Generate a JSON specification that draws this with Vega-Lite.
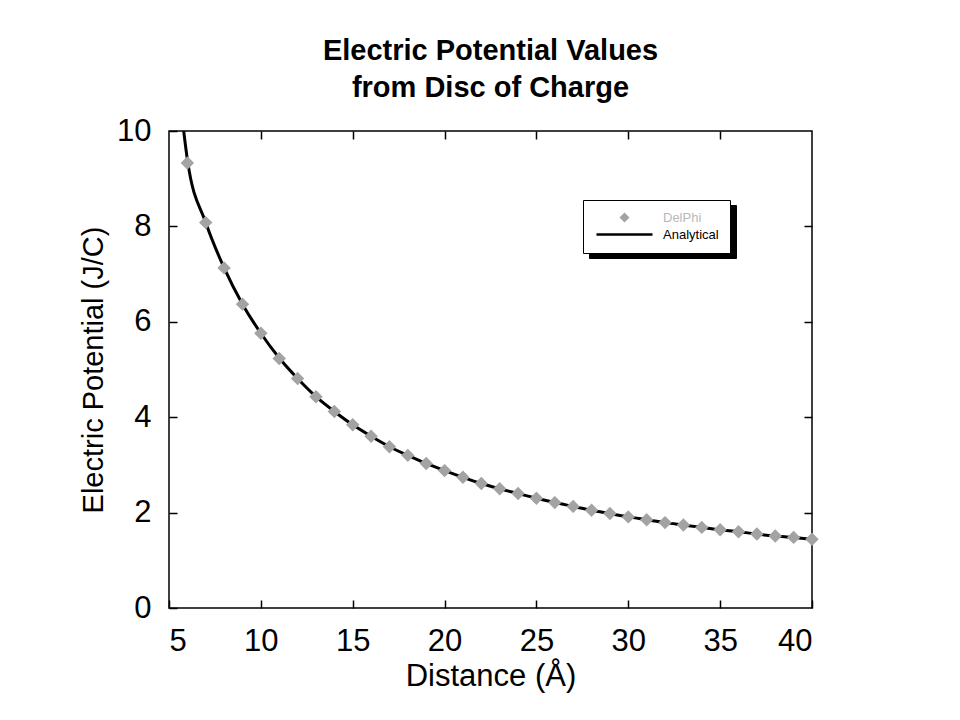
{
  "$schema": "https://vega.github.io/schema/vega-lite/v6.json",
  "autosize": {"type": "none"},
  "width": 643,
  "height": 477,
  "padding": {"left": 169, "top": 131, "right": 148, "bottom": 112},
  "background": "white",
  "config": {
    "font": "Liberation Sans",
    "view": {"stroke": "black", "strokeWidth": 1.5},
    "axis": {"grid": false, "domain": false, "tickColor": "black", "tickWidth": 1.5, "labelColor": "black", "titleColor": "black", "titleFontWeight": "normal"},
    "legend": {
      "title": null, "orient": "none", "direction": "vertical", "columns": 1,
      "padding": 11, "labelFontSize": 13, "labelFont": "Liberation Sans", "rowPadding": 3,
      "labelOffset": 32, "symbolOffset": 24, "symbolSize": 100
    }
  },
  "title": {
    "text": ["Electric Potential Values", "from Disc of Charge"],
    "fontSize": 29,
    "fontWeight": "bold",
    "lineHeight": 37,
    "offset": 12,
    "color": "black",
    "font": "Liberation Sans"
  },
  "datasets": {
    "delphi": [
      {"d": 6, "v": 9.33, "series": "DelPhi"},
      {"d": 7, "v": 8.08, "series": "DelPhi"},
      {"d": 8, "v": 7.13, "series": "DelPhi"},
      {"d": 9, "v": 6.37, "series": "DelPhi"},
      {"d": 10, "v": 5.76, "series": "DelPhi"},
      {"d": 11, "v": 5.23, "series": "DelPhi"},
      {"d": 12, "v": 4.81, "series": "DelPhi"},
      {"d": 13, "v": 4.43, "series": "DelPhi"},
      {"d": 14, "v": 4.12, "series": "DelPhi"},
      {"d": 15, "v": 3.84, "series": "DelPhi"},
      {"d": 16, "v": 3.60, "series": "DelPhi"},
      {"d": 17, "v": 3.38, "series": "DelPhi"},
      {"d": 18, "v": 3.20, "series": "DelPhi"},
      {"d": 19, "v": 3.03, "series": "DelPhi"},
      {"d": 20, "v": 2.88, "series": "DelPhi"},
      {"d": 21, "v": 2.74, "series": "DelPhi"},
      {"d": 22, "v": 2.61, "series": "DelPhi"},
      {"d": 23, "v": 2.50, "series": "DelPhi"},
      {"d": 24, "v": 2.40, "series": "DelPhi"},
      {"d": 25, "v": 2.30, "series": "DelPhi"},
      {"d": 26, "v": 2.21, "series": "DelPhi"},
      {"d": 27, "v": 2.13, "series": "DelPhi"},
      {"d": 28, "v": 2.05, "series": "DelPhi"},
      {"d": 29, "v": 1.98, "series": "DelPhi"},
      {"d": 30, "v": 1.91, "series": "DelPhi"},
      {"d": 31, "v": 1.85, "series": "DelPhi"},
      {"d": 32, "v": 1.79, "series": "DelPhi"},
      {"d": 33, "v": 1.74, "series": "DelPhi"},
      {"d": 34, "v": 1.69, "series": "DelPhi"},
      {"d": 35, "v": 1.64, "series": "DelPhi"},
      {"d": 36, "v": 1.60, "series": "DelPhi"},
      {"d": 37, "v": 1.55, "series": "DelPhi"},
      {"d": 38, "v": 1.51, "series": "DelPhi"},
      {"d": 39, "v": 1.48, "series": "DelPhi"},
      {"d": 40, "v": 1.44, "series": "DelPhi"}
    ],
    "analytical": [
      {"d": 5.8, "v": 10.0, "series": "Analytical"},
      {"d": 6, "v": 9.4, "series": "Analytical"},
      {"d": 7, "v": 8.08, "series": "Analytical"},
      {"d": 8, "v": 7.13, "series": "Analytical"},
      {"d": 9, "v": 6.37, "series": "Analytical"},
      {"d": 10, "v": 5.76, "series": "Analytical"},
      {"d": 11, "v": 5.24, "series": "Analytical"},
      {"d": 12, "v": 4.81, "series": "Analytical"},
      {"d": 13, "v": 4.43, "series": "Analytical"},
      {"d": 14, "v": 4.12, "series": "Analytical"},
      {"d": 15, "v": 3.84, "series": "Analytical"},
      {"d": 16, "v": 3.60, "series": "Analytical"},
      {"d": 17, "v": 3.38, "series": "Analytical"},
      {"d": 18, "v": 3.20, "series": "Analytical"},
      {"d": 19, "v": 3.03, "series": "Analytical"},
      {"d": 20, "v": 2.88, "series": "Analytical"},
      {"d": 21, "v": 2.74, "series": "Analytical"},
      {"d": 22, "v": 2.61, "series": "Analytical"},
      {"d": 23, "v": 2.50, "series": "Analytical"},
      {"d": 24, "v": 2.40, "series": "Analytical"},
      {"d": 25, "v": 2.30, "series": "Analytical"},
      {"d": 26, "v": 2.21, "series": "Analytical"},
      {"d": 27, "v": 2.13, "series": "Analytical"},
      {"d": 28, "v": 2.05, "series": "Analytical"},
      {"d": 29, "v": 1.98, "series": "Analytical"},
      {"d": 30, "v": 1.91, "series": "Analytical"},
      {"d": 31, "v": 1.85, "series": "Analytical"},
      {"d": 32, "v": 1.79, "series": "Analytical"},
      {"d": 33, "v": 1.74, "series": "Analytical"},
      {"d": 34, "v": 1.69, "series": "Analytical"},
      {"d": 35, "v": 1.64, "series": "Analytical"},
      {"d": 36, "v": 1.60, "series": "Analytical"},
      {"d": 37, "v": 1.55, "series": "Analytical"},
      {"d": 38, "v": 1.51, "series": "Analytical"},
      {"d": 39, "v": 1.48, "series": "Analytical"},
      {"d": 40, "v": 1.44, "series": "Analytical"}
    ]
  },
  "layer": [
    {
      "data": {"name": "delphi"},
      "mark": {"type": "point", "filled": true, "size": 1, "fillOpacity": 0, "strokeOpacity": 0},
      "encoding": {
        "x": {"field": "d", "type": "quantitative", "axis": null},
        "y": {"field": "v", "type": "quantitative", "axis": null},
        "opacity": {"field": "d", "type": "ordinal", "scale": {"domain": [6, 7], "range": [0, 0]},
          "legend": {
            "legendX": 420, "legendY": 74, "zindex": 0, "direction": "vertical", "columns": 1,
            "strokeColor": "black", "fillColor": "black",
            "title": "\u00a0", "titleFontSize": 14, "titlePadding": 3, "titleColor": "black",
            "symbolType": "M-5.6,0H5.6", "symbolOpacity": 0, "symbolSize": 100,
            "labelColor": "black", "labelFontSize": 13, "rowPadding": 3, "padding": 11,
            "labelExpr": "datum.value == 6 ? 'DelPhi' : 'Analytical'"
          }}
      }
    },
    {
      "data": {"name": "analytical"},
      "mark": {"type": "line", "strokeWidth": 3, "interpolate": "monotone", "clip": true},
      "encoding": {
        "x": {"field": "d", "type": "quantitative", "scale": {"domain": [5, 40], "nice": false, "zero": false},
          "axis": {"orient": "bottom", "values": [5, 10, 15, 20, 25, 30, 35, 40], "tickSize": -8, "labelFontSize": 31, "labelPadding": 26, "title": "Distance (Å)", "titleFontSize": 31, "titlePadding": 5}},
        "y": {"field": "v", "type": "quantitative", "scale": {"domain": [0, 10], "nice": false},
          "axis": {"orient": "left", "values": [0, 2, 4, 6, 8, 10], "tickSize": -8, "labelFontSize": 31, "labelPadding": 26, "title": "Electric Potential (J/C)", "titleFontSize": 29, "titlePadding": 8}},
        "color": {"field": "series", "type": "nominal", "scale": {"domain": ["DelPhi", "Analytical"], "range": ["#a3a3a3", "#000000"]},
          "legend": {
            "legendX": 414, "legendY": 69, "zindex": 2,
            "strokeColor": "black", "fillColor": "white",
            "encode": {
              "symbols": {"update": {"stroke": {"value": "black"}, "strokeWidth": {"signal": "datum.label == 'DelPhi' ? 0 : 2.5"}}},
              "labels": {"update": {"fill": {"signal": "datum.label == 'DelPhi' ? '#b8b8b8' : '#000000'"}}}
            }
          }}
      }
    },
    {
      "data": {"name": "delphi"},
      "mark": {"type": "point", "filled": true, "opacity": 1, "size": 180},
      "encoding": {
        "x": {"field": "d", "type": "quantitative",
          "axis": {"orient": "top", "values": [10, 15, 20, 25, 30, 35], "tickSize": -8, "labels": false, "title": null}},
        "y": {"field": "v", "type": "quantitative",
          "axis": {"orient": "right", "values": [2, 4, 6, 8], "tickSize": -8, "labels": false, "title": null}},
        "color": {"field": "series", "type": "nominal"},
        "shape": {"field": "series", "type": "nominal", "scale": {"domain": ["DelPhi", "Analytical"], "range": ["diamond", "M-5.6,0H5.6"]}}
      }
    }
  ],
  "resolve": {"axis": {"x": "independent", "y": "independent"}}
}
